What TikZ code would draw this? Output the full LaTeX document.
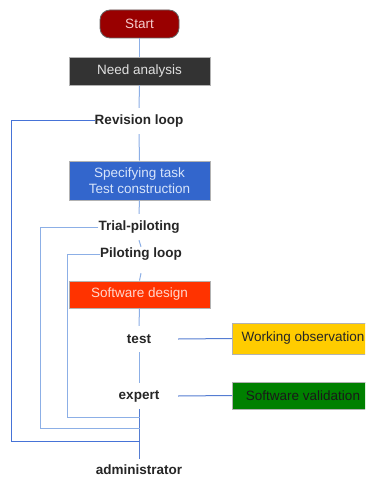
\documentclass[tikz,border=0pt]{standalone}
\usepackage{fontspec}
\setmainfont{Liberation Sans}
\definecolor{linelight}{RGB}{140,175,230}
\definecolor{lineblue}{RGB}{70,115,215}
\definecolor{linemid}{RGB}{85,125,210}
\definecolor{startred}{RGB}{153,0,0}
\definecolor{needgray}{RGB}{51,51,51}
\definecolor{specblue}{RGB}{51,102,204}
\definecolor{swred}{RGB}{255,51,0}
\definecolor{woyellow}{RGB}{255,204,0}
\definecolor{svgreen}{RGB}{0,128,0}
\begin{document}
\begin{tikzpicture}[x=1pt,y=-1pt,
  boxfont/.style={font=\fontsize{13.5}{16}\selectfont},
  box/.style={boxfont, draw=gray!60, line width=0.8pt, minimum width=141pt, align=center, inner sep=0pt},
  lbl/.style={font=\bfseries\fontsize{13.5}{16}\selectfont, text=black!85, inner sep=0pt, minimum height=26pt, minimum width=78pt},
  vline/.style={draw=linelight, line width=1pt},
  loopline/.style={draw=linelight, line width=1pt},
  outerloop/.style={draw=lineblue, line width=1pt},
  sideline/.style={draw=linemid, line width=1pt}
]
\useasboundingbox (0,0) rectangle (365,478);
\clip (0,0) rectangle (365,478);
\fill[white] (0,0) rectangle (365,478);

\node[boxfont, draw=black!60, line width=0.8pt, fill=startred, text={rgb,255:red,245;green,205;blue,205}, rounded corners=10pt, minimum width=79pt, minimum height=28pt, inner sep=0pt] (start) at (139.5,24) {Start};
\node[box, fill=needgray, text=white!88!black, minimum height=28pt] (need) at (139.5,71) {Need analysis};
\node[lbl] (rev) at (139,121) {Revision loop};
\node[box, fill=specblue, text={rgb,255:red,215;green,228;blue,250}, minimum height=39pt] (spec) at (139.5,180.5) {Specifying task\\Test construction};
\node[lbl] (trial) at (139,227) {Trial-piloting};
\node[lbl] (pil) at (141,254) {Piloting loop};
\node[box, fill=swred, text={rgb,255:red,255;green,215;blue,205}, minimum height=27pt] (sw) at (139.5,294.5) {Software design};
\node[lbl] (test) at (139,339) {test};
\node[lbl] (expert) at (139,396) {expert};
\node[lbl] (admin) at (139,470) {administrator};
\node[box, fill=woyellow, text=black!85, minimum height=31pt] (wo) at (303,338.5) {Working observation};
\node[box, fill=svgreen, text=black!90, minimum height=27pt] (sv) at (303,395.5) {Software validation};

\coordinate (c1) at (11,441);
\coordinate (j1) at (139.5,441);
\coordinate (c2) at (40,428);
\coordinate (j2) at (139.5,428);
\coordinate (c3) at (67,417);
\coordinate (j3) at (139.5,417);

\draw[vline] (start.south) -- (need.north);
\draw[vline] (need.south) -- (rev.north);
\draw[vline] (rev.south) -- (spec.north);
\draw[vline] (spec.south) -- (trial.north);
\draw[vline] (trial.south) -- ([yshift=-6pt]pil.north);
\draw[vline] ([yshift=-6pt]pil.south) -- (sw.north);
\draw[vline] (sw.south) -- (test.north);
\draw[vline] (test.south) -- (expert.north);
\draw[draw=linemid, line width=1pt] (expert.south) -- ([yshift=-2pt]admin.north);

\draw[outerloop] (rev.west) -| (c1) -- (j1);
\draw[loopline] (trial.west) -| (c2) -- (j2);
\draw[loopline] (pil.west) -| (c3) -- (j3);

\draw[sideline] (test.east) -- (wo.west);
\draw[sideline] (expert.east) -- (sv.west);
\end{tikzpicture}
\end{document}
